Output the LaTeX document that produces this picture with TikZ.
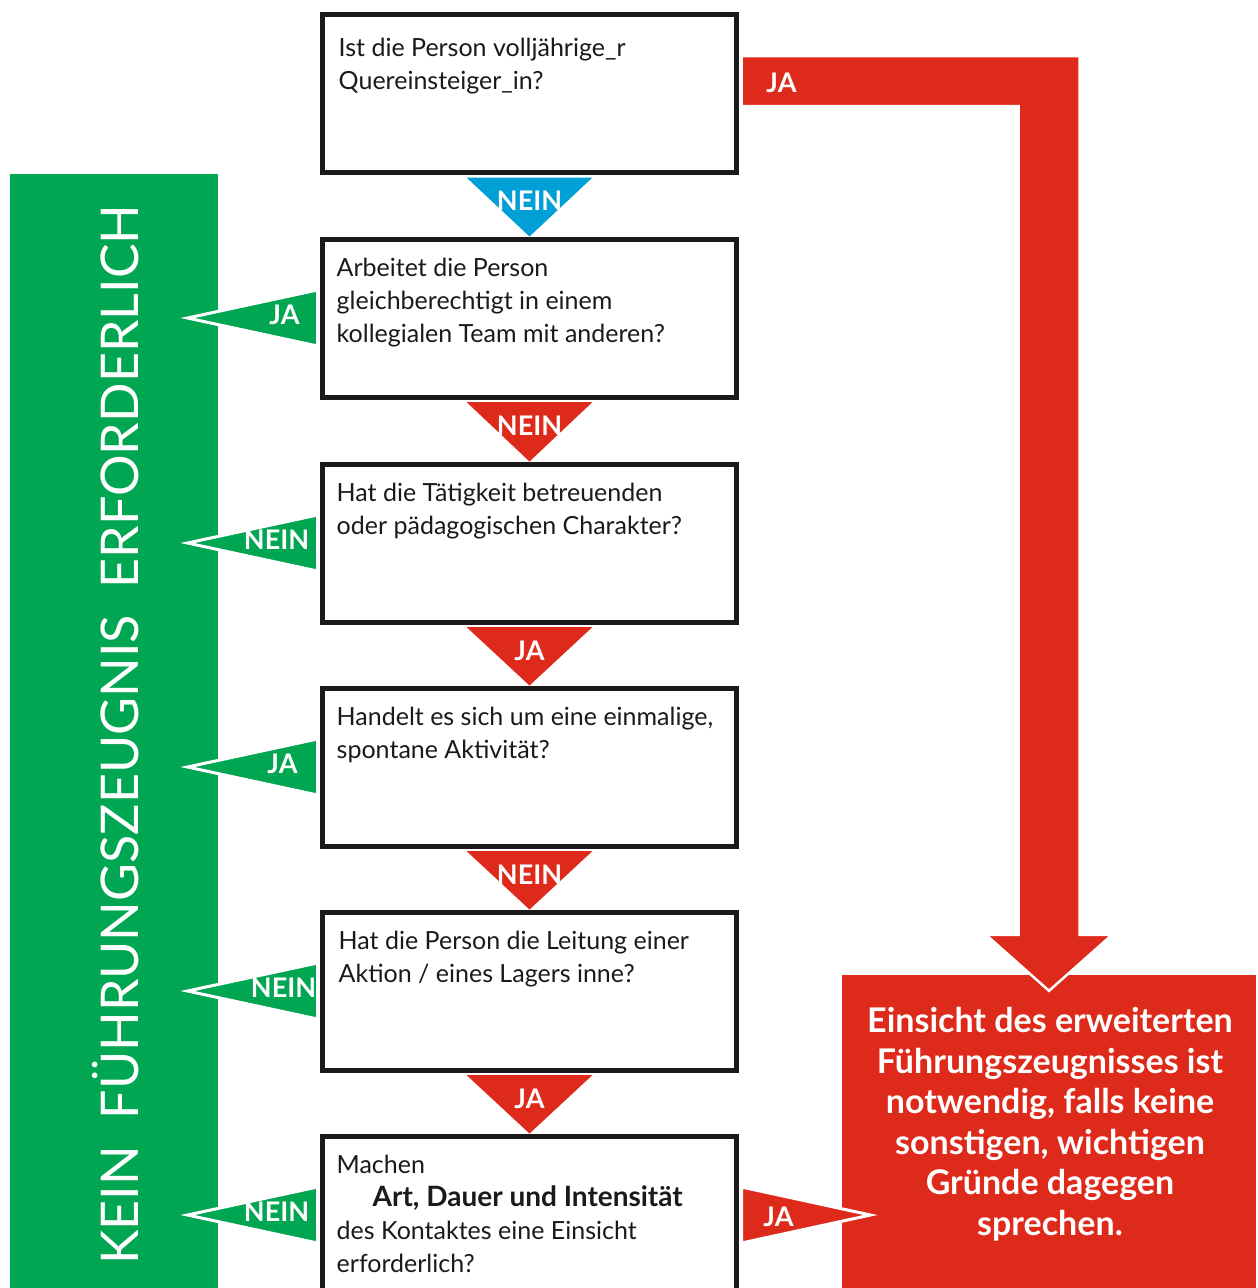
\documentclass[tikz,border=0pt]{standalone}
\usepackage{fontspec}
\setmainfont{Lato}
\usetikzlibrary{calc}
\definecolor{fgreen}{RGB}{0,166,81}
\definecolor{fred}{RGB}{222,42,27}
\definecolor{fblue}{RGB}{0,160,214}
\definecolor{fblack}{RGB}{26,26,26}
\pgfdeclarelayer{bg}
\pgfdeclarelayer{mid}
\pgfsetlayers{bg,mid,main}
\begin{document}
\begin{tikzpicture}[x=1pt,y=-1pt,
  qbox/.style={draw=fblack, line width=5pt, fill=white, minimum width=414pt, minimum height=158pt, inner sep=0pt},
  qtext/.style={anchor=north west, inner sep=0pt, align=left, font=\fontsize{25}{33}\selectfont, text=fblack},
  lbl/.style={text=white, font=\fontsize{27}{27}\selectfont\bfseries, inner sep=0pt},
  sidetri/.style={draw=white, line width=3pt, line join=miter},
]
\useasboundingbox (0,0) rectangle (1258,1288);
\begin{pgfonlayer}{bg}
  \fill[white] (0,0) rectangle (1258,1288);
  \node[fill=fgreen, minimum width=208pt, minimum height=1126pt, inner sep=0pt] (nogo) at (114,737) {};
  \node[fill=fred, minimum width=414pt, minimum height=325pt, inner sep=0pt] (res) at (1049,1137.5) {};
\end{pgfonlayer}

% question boxes
\node[qbox] (b1) at (529.5,93.5) {};
\node[qbox] (b2) at (529.5,318) {};
\node[qbox] (b3) at (529.5,543) {};
\node[qbox] (b4) at (529.5,767) {};
\node[qbox] (b5) at (529.5,991) {};
\node[qbox] (b6) at (529.5,1215) {};

\node[qtext] (t1) at ($(b1.north west)+(18.5,26)$) {Ist die Person volljährige\_r\\Quereinsteiger\_in?};
\node[qtext] (t2) at ($(b2.north west)+(16.5,21)$) {Arbeitet die Person\\gleichberechtigt in einem\\kollegialen Team mit anderen?};
\node[qtext] (t3) at ($(b3.north west)+(16.5,21)$) {Hat die Tätigkeit betreuenden\\oder pädagogischen Charakter?};
\node[qtext] (t4) at ($(b4.north west)+(16.5,21)$) {Handelt es sich um eine einmalige,\\spontane Aktivität?};
\node[qtext] (t5) at ($(b5.north west)+(18.5,21)$) {Hat die Person die Leitung einer\\Aktion / eines Lagers inne?};
\node[qtext] (t6) at ($(b6.north west)+(16.5,21)$) {Machen\\\hspace*{36pt}{\fontsize{28}{33}\selectfont\bfseries Art, Dauer und Intensität}\\des Kontaktes eine Einsicht\\erforderlich?};

% down triangles
\foreach \a/\bb/\c/\t in {b1/b2/fblue/NEIN, b2/b3/fred/NEIN, b3/b4/fred/JA, b4/b5/fred/NEIN, b5/b6/fred/JA}{
  \fill[\c] ($(\a.south)+(-63,2.5)$) -- ($(\a.south)+(63,2.5)$) -- (\bb.north) -- cycle;
  \node[lbl] (d\a) at ($(\a.south)+(0,26)$) {\t};
}

\begin{pgfonlayer}{mid}
  % green side triangles
  \foreach \b/\t/\dx in {b2/JA/-35.5, b3/NEIN/-43.5, b4/JA/-37.5, b5/NEIN/-36.5, b6/NEIN/-43.5}{
    \filldraw[sidetri, fill=fgreen] ($(\b.west)+(-2.5,-28)$) -- ($(\b.west)+(-132.5,0)$) -- ($(\b.west)+(-2.5,28)$) -- cycle;
    \node[lbl] (s\b) at ($(\b.west)+(\dx,-3)$) {\t};
  }
  % red L arrow from b1 to result
  \coordinate (aTopL) at ($(b1.east)+(2.5,-37.5)$);
  \coordinate (aBotL) at ($(b1.east)+(2.5,12.5)$);
  \coordinate (sR) at ($(res.north)+(30.5,-40)$);
  \coordinate (sL) at ($(res.north)+(-30.5,-40)$);
  \coordinate (hR) at ($(res.north)+(63,-40)$);
  \coordinate (hL) at ($(res.north)+(-63,-40)$);
  \coordinate (tip) at ($(res.north)+(0,16)$);
  \filldraw[sidetri, fill=fred, line width=2.5pt] (aTopL) -- (sR |- aTopL) -- (sR) -- (hR) -- (tip) -- (hL) -- (sL) -- (sL |- aBotL) -- (aBotL) -- cycle;
  \node[lbl] (ja1) at ($(aTopL)+(40,27)$) {JA};
  % right JA triangle
  \filldraw[sidetri, fill=fred] ($(b6.east)+(2.5,-28)$) -- ($(b6.east)+(131.5,0)$) -- ($(b6.east)+(2.5,28)$) -- cycle;
  \node[lbl] (ja6) at ($(b6.east)+(39.5,2)$) {JA};
\end{pgfonlayer}

% texts in side panels
\node[anchor=base, rotate=90, inner sep=0pt, text=white, font=\fontsize{52}{52}\selectfont] (nogotext) at (138,735) {KEIN\ \ FÜHRUNGSZEUGNIS\ \ ERFORDERLICH};
\node[anchor=north, inner sep=0pt, align=center, text=white, font=\fontsize{34}{40.6}\selectfont\bfseries] (restext) at (1050,1007) {Einsicht des erweiterten\\Führungszeugnisses ist\\notwendig, falls keine\\sonstigen, wichtigen\\Gründe dagegen\\sprechen.};
\end{tikzpicture}
\end{document}
